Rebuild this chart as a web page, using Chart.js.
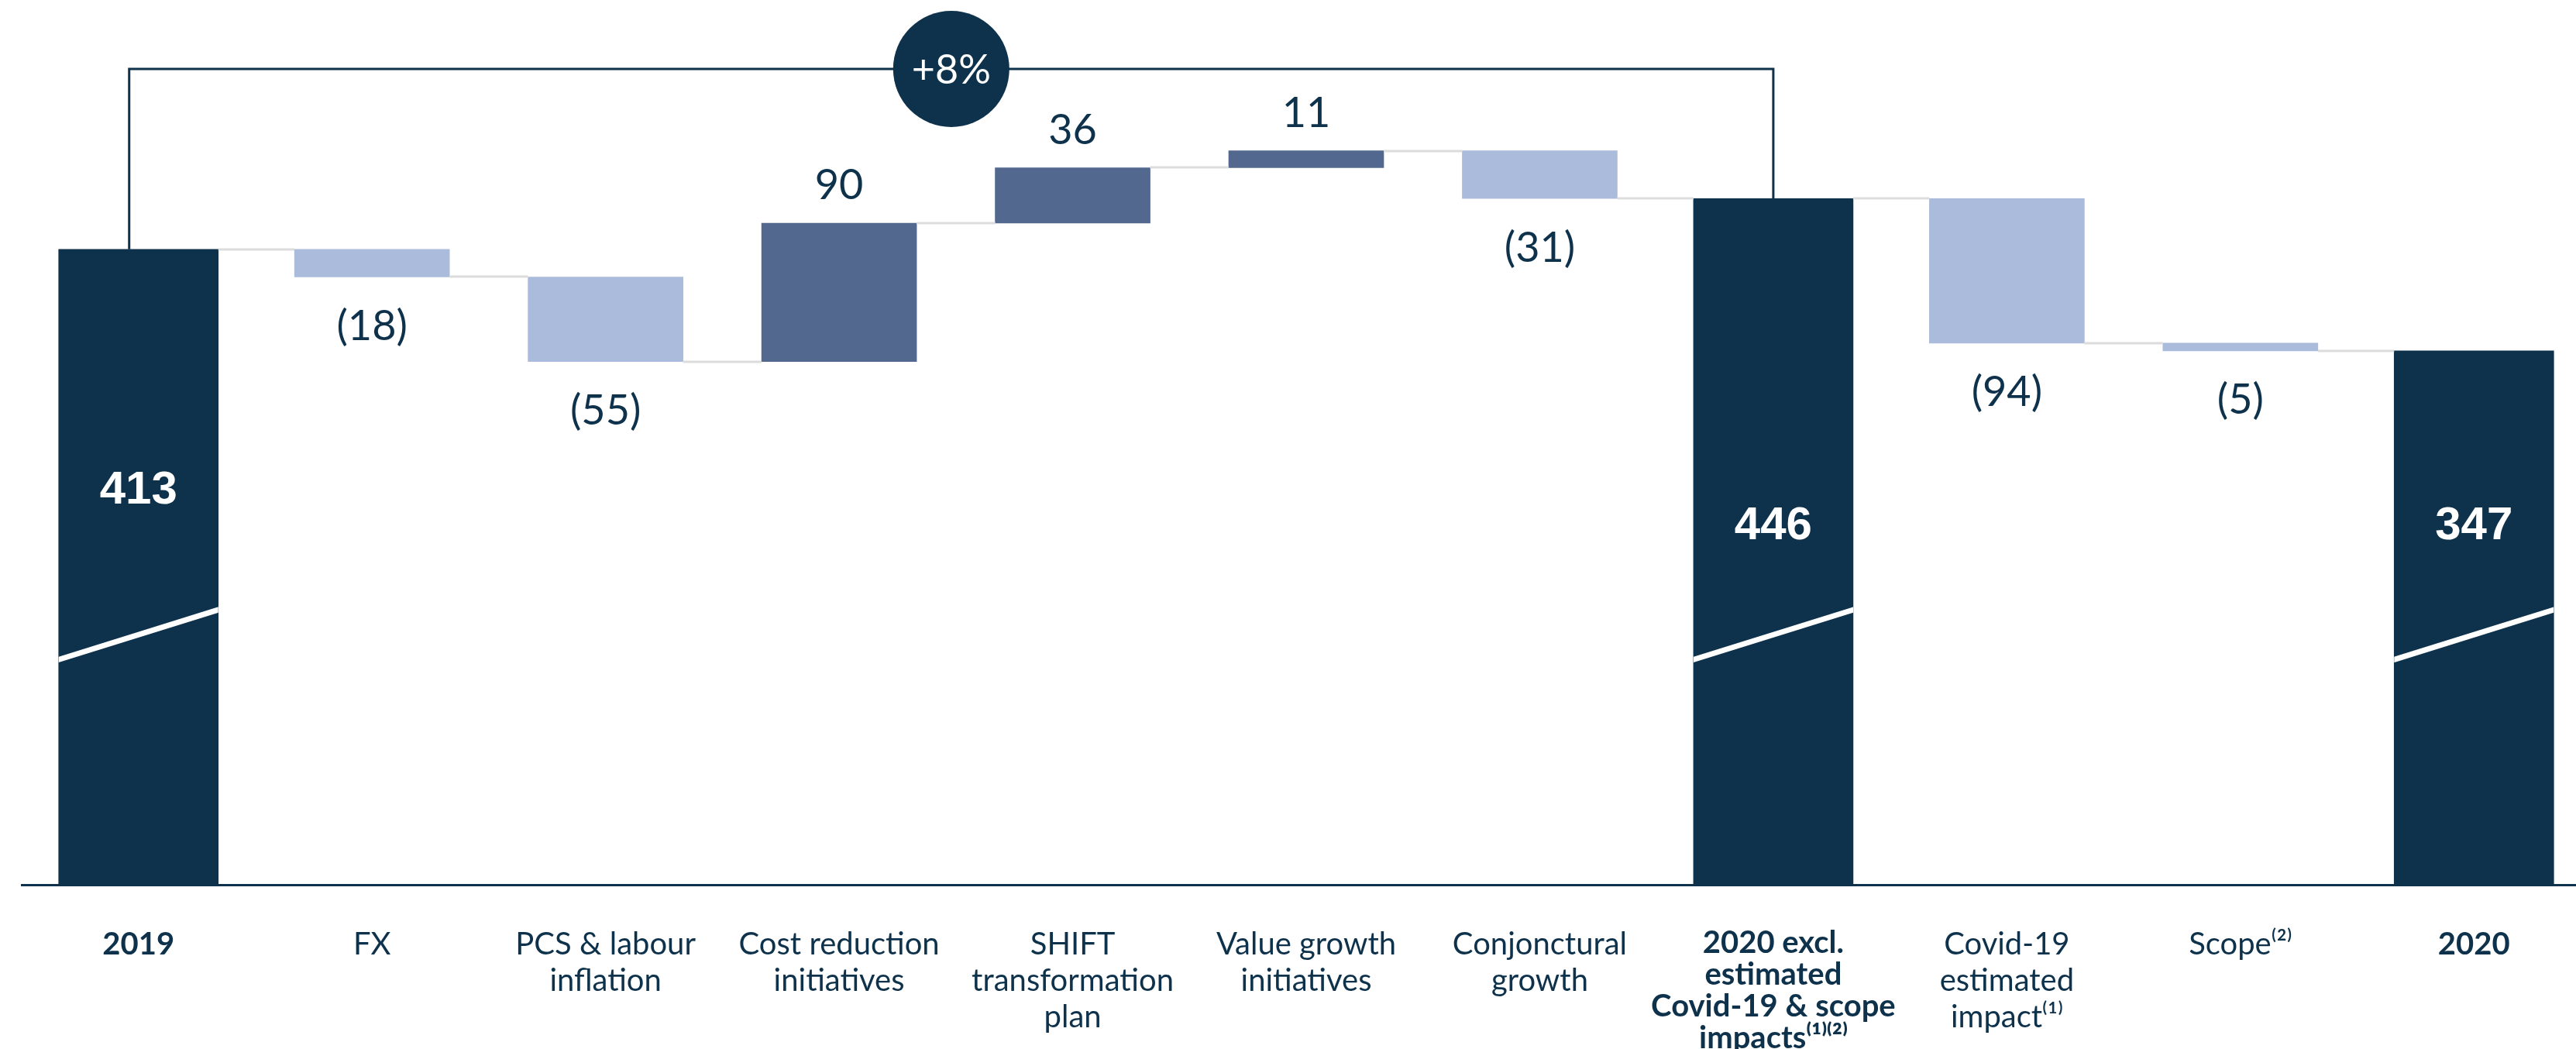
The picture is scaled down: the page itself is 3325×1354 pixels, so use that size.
<!DOCTYPE html>
<html>
<head>
<meta charset="utf-8">
<title>EBITDA bridge 2019-2020</title>
<script src="https://cdn.jsdelivr.net/npm/chart.js@4.4.1/dist/chart.umd.min.js"></script>
<style>
    html, body { margin: 0; padding: 0; background: #ffffff; overflow: hidden; }
    #wrap { position: absolute; left: 0; top: 0; }
</style>
</head>
<body>
<div id="wrap"><canvas id="chartBridge" width="3344" height="1354"></canvas></div>
<script>
// Bridge data
const categories = [
    ['2019'],
    ['FX'],
    ['PCS & labour', 'inflation'],
    ['Cost reduction', 'initiatives'],
    ['SHIFT', 'transformation', 'plan'],
    ['Value growth', 'initiatives'],
    ['Conjonctural', 'growth'],
    ['2020 excl.', 'estimated', 'Covid-19 & scope', 'impacts⁽¹⁾⁽²⁾'],
    ['Covid-19', 'estimated', 'impact⁽¹⁾'],
    ['Scope⁽²⁾'],
    ['2020']
];
const values = [413, -18, -55, 90, 36, 11, -31, 446, -94, -5, 347];
const isTotal = [true, false, false, false, false, false, false, true, false, false, true];
const growthLabel = '+8%';

const NAVY = '#0e324b';
const UP = '#52688f';
const DOWN = '#abbbdb';
const CONNECTOR = '#dcdcdc';

// Floating ranges: totals start at zero, moves start from the running level
const ranges = [];
const levels = [];
let running = 0;
values.forEach((v, i) => {
    if (isTotal[i]) {
        ranges.push([0, v]);
        running = v;
    } else {
        ranges.push([running, running + v]);
        running += v;
    }
    levels.push(running);
});

const totalData = ranges.map((r, i) => isTotal[i] ? r : null);
const moveData = ranges.map((r, i) => isTotal[i] ? null : r);
const moveColors = values.map(v => v >= 0 ? UP : DOWN);

// where the white figure sits inside each total bar
const totalLabelLevel = { 0: 256, 7: 233, 10: 233 };

function barAt(chart, i) {
    const meta = chart.getDatasetMeta(isTotal[i] ? 0 : 1);
    return meta.data[i];
}

const bridgeDecor = {
    id: 'bridgeDecor',
    afterDatasetsDraw(chart) {
        const ctx = chart.ctx;
        const y = chart.scales.y;
        const bars = categories.map((c, i) => barAt(chart, i));

        ctx.save();

        // connectors between bars
        ctx.strokeStyle = CONNECTOR;
        ctx.lineWidth = 3;
        for (let i = 0; i < bars.length - 1; i++) {
            const yy = Math.round(y.getPixelForValue(levels[i]));
            ctx.beginPath();
            ctx.moveTo(bars[i].x + bars[i].width / 2, yy);
            ctx.lineTo(bars[i + 1].x - bars[i + 1].width / 2, yy);
            ctx.stroke();
        }

        // axis break on the total bars
        bars.forEach((b, i) => {
            if (!isTotal[i]) return;
            const left = b.x - b.width / 2;
            const right = b.x + b.width / 2;
            ctx.save();
            ctx.beginPath();
            ctx.rect(left, 0, b.width, chart.chartArea.bottom);
            ctx.clip();
            ctx.strokeStyle = '#ffffff';
            ctx.lineWidth = 7;
            ctx.beginPath();
            ctx.moveTo(left - 2, y.getPixelForValue(146));
            ctx.lineTo(right + 2, y.getPixelForValue(179));
            ctx.stroke();
            ctx.restore();
        });

        // value labels
        ctx.textAlign = 'center';
        ctx.textBaseline = 'middle';
        bars.forEach((b, i) => {
            const v = values[i];
            if (isTotal[i]) {
                ctx.fillStyle = '#ffffff';
                ctx.font = 'bold 60px "Liberation Sans", Arial, sans-serif';
                ctx.fillText(String(v), b.x, y.getPixelForValue(totalLabelLevel[i]));
            } else {
                ctx.fillStyle = NAVY;
                ctx.font = '54px Lato, "Open Sans", sans-serif';
                const top = Math.min(b.y, b.base);
                const bottom = Math.max(b.y, b.base);
                if (v >= 0) {
                    ctx.fillText(String(v), b.x, top - 48);
                } else {
                    ctx.fillText('(' + (-v) + ')', b.x, bottom + 64);
                }
            }
        });

        // growth bracket from 2019 to 2020 excl.
        const first = isTotal.indexOf(true);
        const mid = isTotal.indexOf(true, first + 1);
        const x0 = bars[first].x - 12;
        const x1 = bars[mid].x;
        const yb = Math.round(y.getPixelForValue(530));
        ctx.strokeStyle = NAVY;
        ctx.lineWidth = 3;
        ctx.beginPath();
        ctx.moveTo(x0, y.getPixelForValue(values[first]));
        ctx.lineTo(x0, yb);
        ctx.lineTo(x1, yb);
        ctx.lineTo(x1, y.getPixelForValue(values[mid]));
        ctx.stroke();

        const cx = (x0 + x1) / 2;
        ctx.fillStyle = NAVY;
        ctx.beginPath();
        ctx.arc(cx, yb, 75, 0, Math.PI * 2);
        ctx.fill();
        ctx.fillStyle = '#ffffff';
        ctx.font = '52px Lato, "Open Sans", sans-serif';
        ctx.fillText(growthLabel, cx, yb + 2);

        ctx.restore();
    }
};

const canvas = document.getElementById('chartBridge');

const chart = new Chart(canvas, {
    type: 'bar',
    data: {
        labels: categories,
        datasets: [{
            label: 'Totals',
            data: totalData,
            backgroundColor: NAVY,
            barThickness: 206,
            grouped: false
        }, {
            label: 'Moves',
            data: moveData,
            backgroundColor: moveColors,
            barThickness: 200,
            grouped: false
        }]
    },
    options: {
        responsive: false,
        animation: false,
        devicePixelRatio: 1,
        layout: { padding: { left: 28, right: 0, top: 0, bottom: 0 } },
        plugins: {
            legend: { display: false },
            tooltip: { enabled: false }
        },
        scales: {
            y: {
                display: false,
                min: 0,
                max: 575
            },
            x: {
                grid: { display: false, drawTicks: false },
                border: { display: true, color: NAVY, width: 3 },
                afterFit(axis) {
                    axis.height = 212;
                },
                ticks: {
                    autoSkip: false,
                    maxRotation: 0,
                    minRotation: 0,
                    padding: 54,
                    color: NAVY,
                    font: (c) => ({
                        family: 'Lato, "Open Sans", sans-serif',
                        size: 40,
                        weight: isTotal[c.index] ? 'bold' : 'normal',
                        lineHeight: c.index === 7 ? 1.03 : 1.175
                    })
                }
            }
        }
    },
    plugins: [bridgeDecor]
});
</script>
</body>
</html>
